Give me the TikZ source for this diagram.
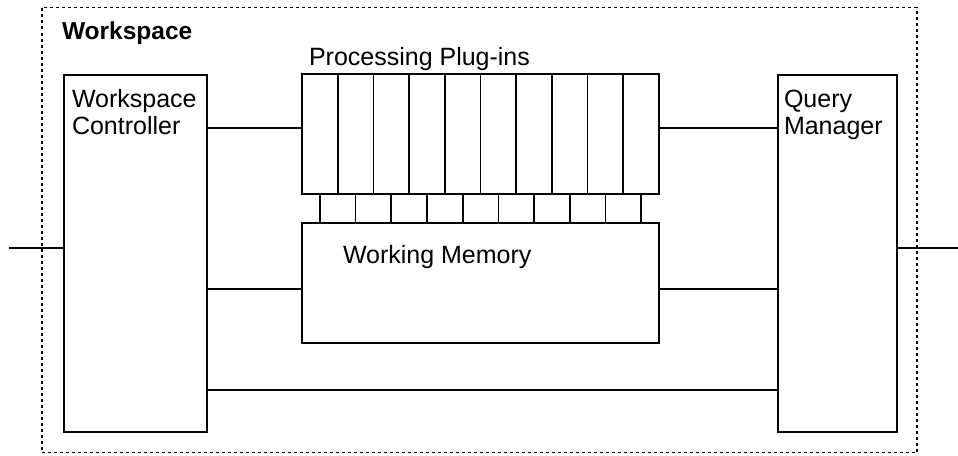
\documentclass[tikz,border=0pt]{standalone}
\usepackage{fontspec}
\setmainfont{Liberation Sans}
\usetikzlibrary{calc}
\begin{document}
\begin{tikzpicture}[x=1pt,y=-1pt,
  box/.style={draw=black, line width=1.7pt, fill=white, inner sep=0pt, outer sep=0pt, anchor=north west},
  wire/.style={draw=black, line width=1.7pt},
  lbl/.style={inner sep=0pt, outer sep=0pt, anchor=base west, font=\fontsize{25}{27}\selectfont},
  frame/.style={draw=black, line width=1.3pt, dash pattern=on 3pt off 3pt}]
  \useasboundingbox (0,0) rectangle (958,455);

  % workspace frame
  \node[frame, inner sep=0pt, outer sep=0pt, anchor=north west, minimum width=875pt, minimum height=445pt] (ws) at (42,7.5) {};
  \node[lbl, font=\bfseries\fontsize{24.5}{27}\selectfont] (wslbl) at (62,39) {Workspace};

  % components
  \node[box, minimum width=143pt, minimum height=357pt] (wc) at (64,75) {};
  \node[box, minimum width=119pt, minimum height=357pt] (qm) at (778,75) {};
  \node[box, minimum width=357pt, minimum height=120pt] (pp) at (302,74) {};
  \node[box, minimum width=357pt, minimum height=120pt] (wm) at (302,223) {};

  % plug-in slots and their links to working memory
  \foreach \i in {1,...,9} {
    \draw[wire] ($(pp.north west)!{\i/10}!(pp.north east)$) -- ($(pp.south west)!{\i/10}!(pp.south east)$);
  }
  \foreach \i in {1,...,10} {
    \draw[wire] ($(pp.south west)!{(\i-0.5)/10}!(pp.south east)$) -- ($(wm.north west)!{(\i-0.5)/10}!(wm.north east)$);
  }

  % labels
  \node[lbl] (wct1) at (72,107) {Workspace};
  \node[lbl] (wct2) at (72,134) {Controller};
  \node[lbl] (qmt1) at (784,107) {Query};
  \node[lbl] (qmt2) at (784,134) {Manager};
  \node[lbl] (ppt) at (309,65) {Processing Plug-ins};
  \node[lbl] (wmt) at (343,263) {Working Memory};

  % connectors
  \draw[wire] (wc.east |- 0,128) -- (pp.west |- 0,128);
  \draw[wire] (pp.east |- 0,128) -- (qm.west |- 0,128);
  \draw[wire] (wc.east |- 0,289) -- (wm.west |- 0,289);
  \draw[wire] (wm.east |- 0,289) -- (qm.west |- 0,289);
  \draw[wire] (wc.east |- 0,390) -- (qm.west |- 0,390);

  % external links
  \coordinate (inL) at (9,248);
  \coordinate (inR) at (958,248);
  \draw[wire] (inL) -- (wc.west |- inL);
  \draw[wire] (qm.east |- inR) -- (inR);
\end{tikzpicture}
\end{document}
